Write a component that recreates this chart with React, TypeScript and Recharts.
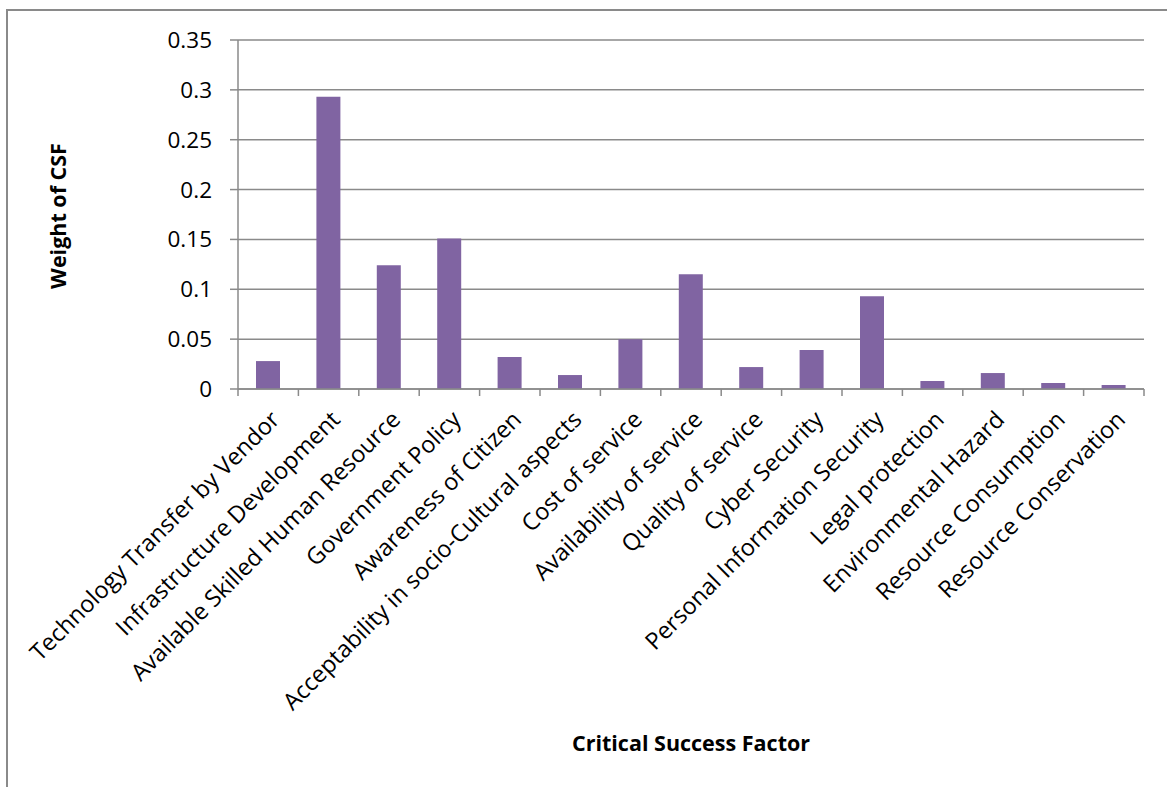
import React from 'react';
import { BarChart, Bar, XAxis, YAxis, CartesianGrid } from 'recharts';

const categories = [
  'Technology Transfer by Vendor',
  'Infrastructure Development',
  'Available Skilled Human Resource',
  'Government Policy',
  'Awareness of Citizen',
  'Acceptability in socio-Cultural aspects',
  'Cost of service',
  'Availability of service',
  'Quality of service',
  'Cyber Security',
  'Personal Information Security',
  'Legal protection',
  'Environmental Hazard',
  'Resource Consumption',
  'Resource Conservation',
];

const weights = [
  0.028, 0.293, 0.124, 0.151, 0.032, 0.014, 0.05, 0.115, 0.022, 0.039, 0.093, 0.008, 0.016, 0.006, 0.004,
];

const yTicks = [0, 0.05, 0.1, 0.15, 0.2, 0.25, 0.3, 0.35];

const yTitle = 'Weight of CSF';
const xTitle = 'Critical Success Factor';

const data = categories.map((name, i) => ({ name, weight: weights[i] }));

const FONT = '"Open Sans", "Liberation Sans", sans-serif';
const GRAY = '#8a8a8a';

const CategoryTick = (props: any) => {
  const { x, y, payload, index } = props;
  const off = typeof payload?.offset === 'number' && payload.offset > 0 ? payload.offset : 30.2;
  const ax = x + 1;
  const ay = y + 20;
  return (
    <g>
      <line x1={x - off} y1={y} x2={x - off} y2={y + 7} stroke={GRAY} strokeWidth={1.5} />
      {index === categories.length - 1 && (
        <line x1={x + off} y1={y} x2={x + off} y2={y + 7} stroke={GRAY} strokeWidth={1.5} />
      )}
      <text
        x={ax}
        y={ay}
        dy="0.72em"
        textAnchor="end"
        transform={`rotate(-45, ${ax}, ${ay})`}
        fontFamily={FONT}
        fontSize={23.5}
        fill="#000"
      >
        {payload.value}
      </text>
    </g>
  );
};

export default function App() {
  return (
    <div style={{ position: 'fixed', left: 0, top: 0, width: 1167, height: 787, overflow: 'hidden', background: '#fff' }}>
      <div
        style={{
          position: 'absolute',
          left: 6,
          top: 9,
          width: 1300,
          height: 900,
          borderLeft: `2px solid ${GRAY}`,
          borderTop: `2px solid ${GRAY}`,
        }}
      />
      <div style={{ position: 'absolute', left: 0, top: 0 }}>
        <BarChart
          width={1167}
          height={787}
          data={data}
          margin={{ top: 40, right: 23, bottom: 38, left: 178 }}
          barSize={24}
        >
          <CartesianGrid vertical={false} stroke={GRAY} strokeWidth={1.5} />
          <XAxis
            dataKey="name"
            interval={0}
            height={360}
            tickSize={0}
            tickMargin={0}
            tickLine={false}
            axisLine={{ stroke: GRAY, strokeWidth: 1.5 }}
            tick={<CategoryTick />}
          />
          <YAxis
            width={60}
            domain={[0, 0.35]}
            ticks={yTicks}
            interval={0}
            tickSize={8}
            tickMargin={18}
            tickLine={{ stroke: GRAY, strokeWidth: 1.5 }}
            axisLine={{ stroke: GRAY, strokeWidth: 1.5 }}
            tick={{ fontFamily: FONT, fontSize: 22.5, fill: '#000' }}
          />
          <Bar dataKey="weight" fill="#8064A2" isAnimationActive={false} />
        </BarChart>
      </div>
      <svg width={1167} height={787} style={{ position: 'absolute', left: 0, top: 0, pointerEvents: 'none' }}>
        <text
          x={57}
          y={216}
          textAnchor="middle"
          dominantBaseline="central"
          transform="rotate(-90, 57, 216)"
          fontFamily={FONT}
          fontWeight="bold"
          fontSize={21.5}
          fill="#000"
        >
          {yTitle}
        </text>
        <text x={691} y={751} textAnchor="middle" fontFamily={FONT} fontWeight="bold" fontSize={21.5} fill="#000">
          {xTitle}
        </text>
      </svg>
    </div>
  );
}
